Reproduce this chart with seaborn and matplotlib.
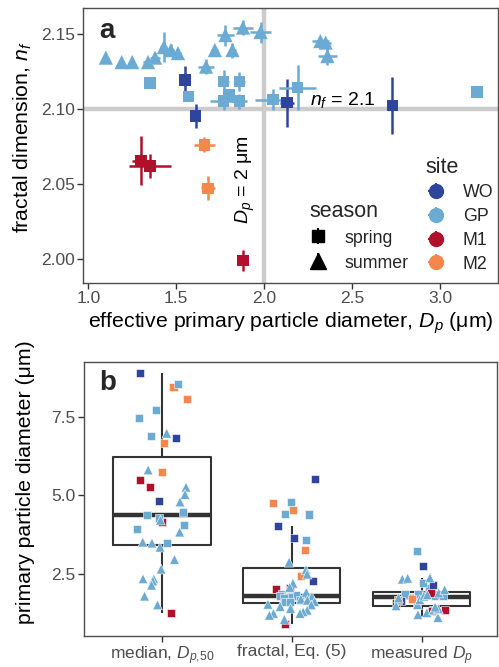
import numpy as np
import pandas as pd
import matplotlib
matplotlib.use("Agg")
import matplotlib.pyplot as plt
import seaborn as sns
from matplotlib.container import ErrorbarContainer
from matplotlib.legend_handler import HandlerErrorbar

sns.set_theme(style="white")
plt.rcParams["font.family"] = ["Liberation Sans", "DejaVu Sans"]
plt.rcParams["mathtext.fontset"] = "custom"
plt.rcParams["mathtext.rm"] = "Liberation Sans"
plt.rcParams["mathtext.it"] = "Liberation Sans:italic"
plt.rcParams["mathtext.bf"] = "Liberation Sans:bold"

# ---- categories and colours ----
sites = ["WO", "GP", "M1", "M2"]
site_colors = ["#2f449c", "#6aaad3", "#b0102c", "#f4874b"]
seasons = ["spring", "summer"]
season_markers = ["s", "^"]

# ---- panel a: effective primary particle diameter vs fractal dimension ----
a_site = (["GP"] * 17 + ["GP"] * 10 + ["WO"] * 4 + ["M1"] * 3 + ["M2"] * 2)
a_season = (["summer"] * 17 + ["spring"] * 19)
a_dp = [1.10, 1.19, 1.25, 1.34, 1.38, 1.43, 1.47, 1.51, 1.67, 1.72, 1.78, 1.82,
        1.88, 1.98, 2.32, 2.35, 2.36,
        1.35, 1.57, 1.77, 1.86, 1.80, 1.77, 1.86, 2.05, 2.19, 3.21,
        1.55, 1.61, 2.13, 2.73,
        1.30, 1.35, 1.88,
        1.66, 1.68]
a_dp_err = [0.01, 0.01, 0.01, 0.03, 0.03, 0.02, 0.02, 0.02, 0.045, 0.02, 0.05, 0.02,
            0.055, 0.06, 0.05, 0.03, 0.055,
            0.005, 0.01, 0.03, 0.03, 0.02, 0.075, 0.04, 0.10, 0.105, 0.0,
            0.03, 0.01, 0.04, 0.02,
            0.05, 0.12, 0.01,
            0.06, 0.04]
a_nf = [2.134, 2.131, 2.131, 2.131, 2.134, 2.141, 2.139, 2.137, 2.128, 2.139, 2.149, 2.139,
        2.154, 2.151, 2.145, 2.144, 2.135,
        2.117, 2.108, 2.118, 2.118, 2.109, 2.105, 2.105, 2.106, 2.114, 2.111,
        2.119, 2.095, 2.104, 2.102,
        2.0655, 2.062, 1.999,
        2.076, 2.047]
a_nf_err = [0.001, 0.001, 0.001, 0.002, 0.003, 0.010, 0.004, 0.003, 0.005, 0.002, 0.007, 0.005,
            0.005, 0.007, 0.002, 0.001, 0.006,
            0.001, 0.002, 0.008, 0.0065, 0.002, 0.006, 0.005, 0.007, 0.015, 0.0,
            0.0095, 0.008, 0.016, 0.019,
            0.016, 0.008, 0.007,
            0.005, 0.008]

# ---- panel b: primary particle diameter by method ----
methods = ["median", "fractal", "measured"]
method_labels = [r"median, $D_{p{,}50}$", "fractal, Eq. (5)", r"measured $D_p$"]

med_values = [8.89, 6.82, 4.81,
              8.44, 8.06, 6.65, 5.73,
              5.48, 5.25, 4.14, 1.24,
              8.53, 7.71, 7.45, 6.88, 4.46, 4.36, 4.27, 4.05, 3.92, 3.47,
              6.97, 5.80, 5.25, 5.02, 4.78, 4.20, 3.82, 3.50, 3.47, 3.34, 2.95,
              2.64, 2.33, 2.33, 2.26, 2.13, 1.78, 1.50]
med_sites = ["WO"] * 3 + ["M2"] * 4 + ["M1"] * 4 + ["GP"] * 28
med_seasons = ["spring"] * 21 + ["summer"] * 18

frac_values = [5.51, 4.01, 3.63, 2.26,
               4.74, 4.52, 3.24, 2.41,
               2.03, 2.00, 1.74, 0.90,
               4.78, 4.40, 4.38, 3.56, 1.85, 1.80, 1.78, 1.74, 1.71, 1.65, 1.59, 1.59,
               2.86, 2.62, 2.48, 2.19, 2.06, 1.90, 1.76, 1.68, 1.65, 1.60, 1.52, 1.50,
               1.45, 1.39, 1.33, 1.28, 1.23, 1.23, 1.17, 1.04]
frac_sites = ["WO"] * 4 + ["M2"] * 4 + ["M1"] * 4 + ["GP"] * 32
frac_seasons = ["spring"] * 24 + ["summer"] * 20

palette = dict(zip(sites, site_colors))

df_a = pd.DataFrame({"site": a_site, "season": a_season, "dp": a_dp,
                     "dp_err": a_dp_err, "nf": a_nf, "nf_err": a_nf_err})

df_b = pd.concat([
    pd.DataFrame({"method": "median", "value": med_values,
                  "site": med_sites, "season": med_seasons}),
    pd.DataFrame({"method": "fractal", "value": frac_values,
                  "site": frac_sites, "season": frac_seasons}),
    pd.DataFrame({"method": "measured", "value": a_dp,
                  "site": a_site, "season": a_season}),
], ignore_index=True)

tick_color = "#4d4d4d"
frame_color = "#4d4d4d"

fig = plt.figure(figsize=(4.99, 6.67), dpi=100)
ax_a = fig.add_axes([0.1663, 0.5757, 0.8317, 0.4123])
ax_b = fig.add_axes([0.1683, 0.0465, 0.8277, 0.4108])

# ================= panel a =================
ax_a.axhline(2.1, color="#cccccc", lw=3.2, zorder=1)
ax_a.axvline(2.0, color="#cccccc", lw=3.2, zorder=1)

for site, col in palette.items():
    sub = df_a[df_a["site"] == site]
    ax_a.errorbar(sub["dp"], sub["nf"], xerr=sub["dp_err"], yerr=sub["nf_err"],
                  fmt="none", ecolor=col, elinewidth=1.8, capsize=0, zorder=2)

for season, mk, size in [("spring", "s", 70), ("summer", "^", 105)]:
    sns.scatterplot(data=df_a[df_a["season"] == season], x="dp", y="nf",
                    hue="site", palette=palette, marker=mk, s=size,
                    linewidth=0, legend=False, ax=ax_a, zorder=3)

ax_a.set_xlim(0.97, 3.33)
ax_a.set_ylim(1.984, 2.167)
ax_a.set_xticks([1.0, 1.5, 2.0, 2.5, 3.0])
ax_a.set_yticks([2.00, 2.05, 2.10, 2.15])
ax_a.set_xticklabels(["1.0", "1.5", "2.0", "2.5", "3.0"])
ax_a.set_yticklabels(["2.00", "2.05", "2.10", "2.15"])
ax_a.set_xlabel(r"effective primary particle diameter, $D_p$ (μm)", fontsize=15.3,
                color="black", labelpad=3)
ax_a.set_ylabel(r"fractal dimension, $n_f$", fontsize=15.3, color="black", labelpad=6)
ax_a.yaxis.set_label_coords(-0.118, 0.53)

ax_a.text(2.26, 2.1027, r"$n_f$ = 2.1", fontsize=14, va="baseline", ha="left",
          color="black", zorder=4)
ax_a.text(1.895, 2.053, r"$D_p$ = 2 μm", fontsize=14, rotation=90,
          va="center", ha="center", color="black", zorder=4)
ax_a.text(0.04, 0.891, "a", transform=ax_a.transAxes, fontsize=20,
          fontweight="bold", va="baseline", ha="left")

# legends: season (shape) and site (colour)
season_handles = []
for season, mk in zip(seasons, season_markers):
    h = ax_a.errorbar([np.nan], [np.nan], yerr=[1.0], fmt=mk, color="black",
                      ms=9 if mk == "s" else 11, elinewidth=1.5, capsize=0)
    season_handles.append(h)
site_handles = []
for site, col in zip(sites, site_colors):
    h = ax_a.errorbar([np.nan], [np.nan], xerr=[1.0], yerr=[1.0], fmt="o", color=col,
                      ms=10, elinewidth=1.5, capsize=0)
    site_handles.append(h)

hmap = {ErrorbarContainer: HandlerErrorbar(xerr_size=0.45)}
leg_season = ax_a.legend(season_handles, seasons, title="season", loc="upper left",
                         bbox_to_anchor=(0.515, 0.345), frameon=False, fontsize=12.8,
                         title_fontsize=15.5, handlelength=1.0, handletextpad=1.0,
                         labelspacing=0.45, alignment="left", borderpad=0.2,
                         handler_map=hmap)
ax_a.add_artist(leg_season)
ax_a.legend(site_handles, sites, title="site", loc="upper left",
            bbox_to_anchor=(0.795, 0.505), frameon=False, fontsize=12.8,
            title_fontsize=15.5, handlelength=1.2, handletextpad=0.9,
            labelspacing=0.38, alignment="left", borderpad=0.2,
            handler_map=hmap)

# ================= panel b =================
sns.boxplot(data=df_b, x="method", y="value", order=methods, showfliers=False,
            width=0.75, fill=False, color="#333333", linewidth=1.5,
            medianprops={"linewidth": 3.2}, showcaps=False, ax=ax_b, zorder=2)

np.random.seed(7)
for season, mk, size in [("spring", "s", 5.8), ("summer", "^", 7.0)]:
    sns.stripplot(data=df_b[df_b["season"] == season], x="method", y="value",
                  order=methods, hue="site", palette=palette, marker=mk, size=size,
                  jitter=0.2, linewidth=0.4, edgecolor="white", legend=False,
                  ax=ax_b, zorder=3)

ax_b.set_xlim(-0.6, 2.58)
ax_b.set_ylim(0.51, 9.24)
ax_b.set_yticks([2.5, 5.0, 7.5])
ax_b.set_yticklabels(["2.5", "5.0", "7.5"])
ax_b.set_xticks([0, 1, 2])
ax_b.set_xticklabels(method_labels)
ax_b.set_xlabel("")
ax_b.set_ylabel("primary particle diameter (μm)", fontsize=15.3, color="black")
ax_b.yaxis.set_label_coords(-0.118, 0.56)
ax_b.text(0.036, 0.898, "b", transform=ax_b.transAxes, fontsize=20,
          fontweight="bold", va="baseline", ha="left")

for ax in (ax_a, ax_b):
    for sp in ax.spines.values():
        sp.set_visible(True)
        sp.set_color(frame_color)
        sp.set_linewidth(1.0)
    ax.tick_params(axis="both", which="major", direction="out", length=4, width=1,
                   color="#333333", labelcolor=tick_color, labelsize=12.5, pad=2,
                   bottom=True, left=True)
    ax.grid(False)

fig.savefig("out.png", dpi=100)
